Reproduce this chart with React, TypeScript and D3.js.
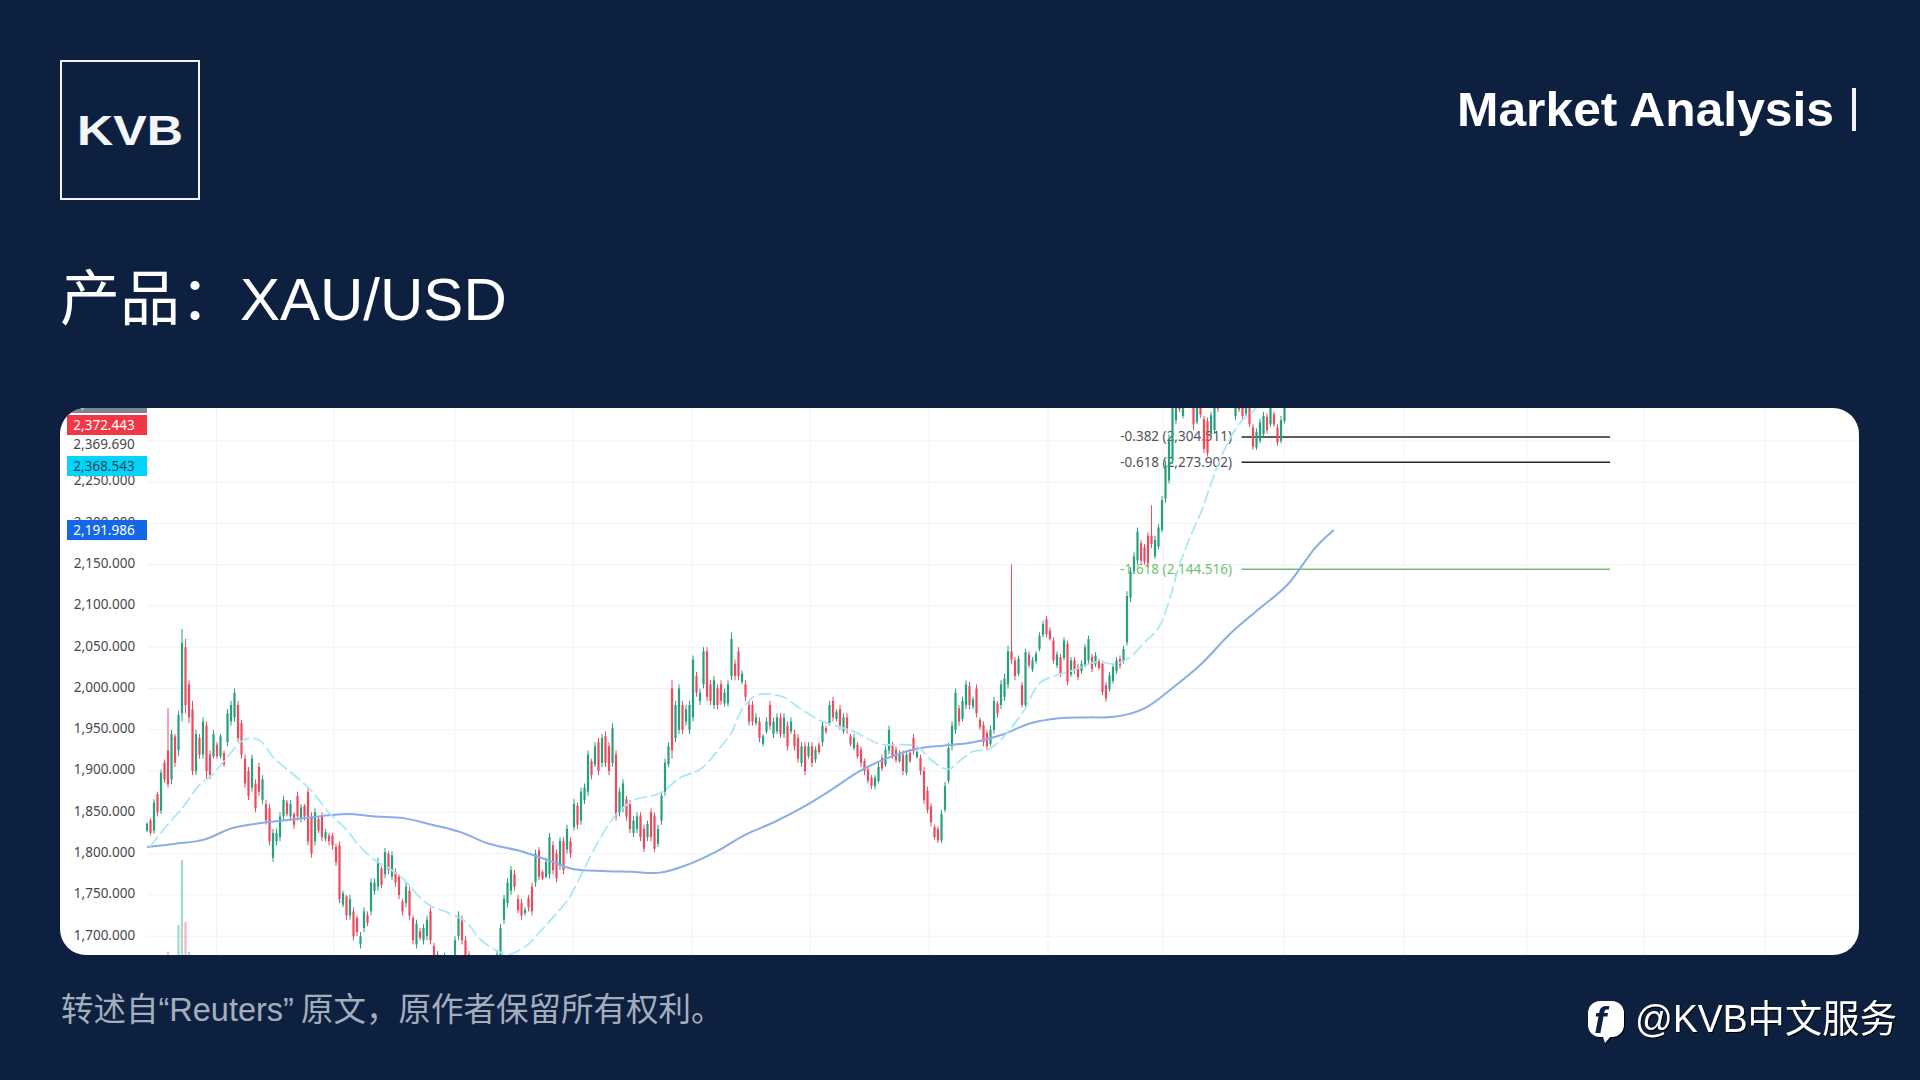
import React from "react";
import * as d3 from "d3";

const highs = [
1838,1843,1866,1875,1902,1914,1976,1950,1945,1973,
2072,2060,2010,1985,1950,1945,1965,1960,1925,1950,
1935,1945,1925,1975,1985,2000,1985,1962,1920,1905,
1920,1890,1910,1895,1865,1860,1830,1830,1850,1870,
1865,1865,1850,1875,1860,1860,1880,1850,1855,1845,
1850,1830,1825,1825,1812,1815,1755,1750,1750,1735,
1725,1705,1735,1730,1770,1770,1795,1785,1807,1803,
1803,1782,1775,1745,1765,1760,1725,1720,1710,1715,
1725,1735,1692,1682,1672,1680,1668,1660,1700,1730,
1725,1700,1682,1670,1655,1650,1640,1650,1645,1660,
1682,1715,1750,1770,1785,1780,1750,1745,1735,1750,
1765,1805,1808,1780,1795,1825,1815,1805,1820,1820,
1835,1820,1866,1862,1880,1885,1925,1915,1935,1940,
1945,1948,1935,1958,1925,1880,1890,1870,1865,1845,
1850,1850,1835,1840,1855,1850,1835,1875,1915,1935,
2010,1985,2005,1985,1980,1985,2040,2020,2000,2050,
2050,2010,2015,2005,2010,2000,2010,2068,2035,2050,
2022,2010,1985,1985,1970,1965,1945,1965,1985,1965,
1970,1970,1970,1960,1965,1950,1945,1935,1935,1935,
1935,1930,1935,1960,1955,1985,1990,1975,1980,1970,
1970,1945,1945,1935,1930,1915,1905,1895,1895,1910,
1920,1930,1955,1935,1930,1925,1925,1925,1925,1945,
1925,1920,1905,1881,1861,1835,1833,1853,1887,1934,
1960,2000,1980,1990,2010,2008,1990,2005,1965,1960,
1950,1955,1990,1985,2010,2018,2052,2150,2038,2040,
2008,2048,2045,2038,2045,2068,2082,2088,2074,2062,
2045,2042,2062,2058,2038,2038,2030,2034,2054,2064,
2042,2044,2036,2034,2008,2020,2030,2038,2040,2052,
2118,2147,2165,2195,2180,2175,2189,2222,2185,2199,
2233,2276,2308,2345,2360,2355,2360,2365,2370,2365,
2350,2345,2330,2328,2335,2345,2360,2375,2380,2375,
2385,2370,2350,2360,2350,2345,2320,2315,2327,2335,
2333,2345,2335,2320,2330,2350,
];

const lows = [
1826,1822,1824,1845,1848,1886,1880,1884,1905,1918,
1960,1970,1958,1895,1895,1915,1915,1890,1890,1915,
1915,1915,1905,1930,1955,1960,1935,1915,1880,1865,
1875,1850,1870,1860,1835,1810,1790,1810,1815,1840,
1845,1840,1830,1840,1838,1840,1810,1795,1810,1825,
1815,1815,1810,1805,1785,1740,1735,1720,1720,1695,
1700,1685,1705,1712,1725,1750,1755,1758,1770,1775,
1768,1760,1745,1725,1735,1720,1690,1685,1695,1690,
1695,1690,1668,1660,1650,1655,1640,1635,1660,1695,
1690,1670,1650,1640,1630,1625,1620,1625,1630,1635,
1650,1670,1715,1735,1750,1755,1728,1720,1725,1730,
1725,1760,1768,1768,1770,1770,1775,1765,1780,1775,
1800,1795,1828,1830,1835,1860,1870,1890,1905,1895,
1905,1905,1895,1905,1840,1845,1850,1840,1825,1820,
1825,1815,1802,1815,1815,1802,1808,1835,1870,1905,
1915,1935,1945,1945,1955,1945,1960,1990,1980,2000,
1985,1980,1975,1975,1980,1978,1978,2010,2010,2010,
2005,1985,1955,1955,1955,1935,1930,1945,1950,1940,
1945,1940,1940,1925,1945,1925,1910,1905,1895,1915,
1905,1910,1920,1930,1945,1955,1960,1960,1950,1945,
1945,1930,1925,1915,1905,1895,1885,1878,1878,1885,
1900,1905,1920,1915,1910,1910,1895,1895,1910,1920,
1915,1895,1860,1849,1833,1817,1813,1813,1850,1885,
1925,1945,1955,1960,1975,1975,1975,1965,1950,1930,
1925,1930,1945,1965,1975,1985,2000,2030,2010,2015,
1977,1975,2025,2020,2030,2045,2062,2062,2058,2030,
2025,2014,2034,2004,2014,2018,2010,2018,2026,2030,
2020,2026,2022,1992,1984,1996,2006,2018,2024,2030,
2052,2105,2139,2150,2150,2150,2147,2170,2157,2169,
2189,2225,2248,2272,2320,2335,2327,2340,2345,2313,
2320,2328,2285,2281,2305,2309,2335,2345,2350,2348,
2350,2325,2335,2325,2330,2317,2289,2289,2297,2305,
2309,2317,2317,2294,2297,2321,
];

const opens = [
1828,1840,1828,1872,1852,1910,1925,1890,1942,1925,
1970,2050,2005,1975,1900,1940,1920,1955,1920,1918,
1932,1918,1922,1935,1960,1965,1980,1958,1915,1900,
1880,1885,1905,1865,1860,1855,1795,1815,1820,1845,
1862,1845,1848,1870,1842,1858,1875,1845,1815,1842,
1845,1818,1822,1822,1808,1810,1738,1748,1725,1730,
1722,1690,1710,1726,1730,1755,1760,1782,1775,1800,
1772,1778,1772,1742,1740,1755,1722,1690,1706,1695,
1700,1730,1688,1665,1668,1660,1664,1655,1665,1700,
1720,1695,1678,1645,1650,1645,1625,1630,1640,1640,
1655,1675,1720,1740,1755,1775,1745,1740,1728,1746,
1760,1765,1804,1778,1772,1775,1810,1800,1785,1815,
1805,1815,1832,1858,1840,1865,1875,1912,1908,1935,
1910,1942,1930,1910,1920,1850,1855,1866,1860,1825,
1830,1846,1830,1820,1850,1846,1812,1840,1875,1908,
2000,1940,1950,1980,1960,1950,1965,2015,1985,2005,
2045,2005,1980,2000,2005,1982,1982,2015,2030,2045,
2008,2005,1980,1980,1958,1960,1933,1948,1980,1945,
1948,1965,1945,1955,1948,1945,1940,1910,1930,1918,
1930,1914,1932,1935,1952,1958,1985,1963,1975,1948,
1965,1942,1928,1932,1926,1912,1902,1892,1882,1888,
1916,1908,1925,1932,1926,1912,1920,1898,1922,1940,
1917,1916,1900,1876,1857,1832,1830,1816,1853,1888,
1930,1950,1976,1963,1980,2003,1978,2000,1962,1956,
1946,1933,1950,1982,1980,1990,2005,2045,2034,2018,
2004,1980,2041,2023,2033,2048,2065,2084,2070,2058,
2028,2038,2037,2054,2017,2034,2026,2021,2029,2034,
2038,2029,2033,2030,2004,1999,2009,2021,2036,2033,
2056,2110,2142,2155,2176,2171,2185,2185,2160,2172,
2192,2230,2252,2278,2325,2352,2330,2343,2350,2360,
2323,2342,2326,2324,2308,2313,2356,2348,2353,2351,
2380,2330,2347,2355,2333,2340,2316,2292,2300,2308,
2329,2320,2332,2316,2300,2324,
];

const closes = [
1836,1825,1862,1850,1898,1890,1884,1945,1910,1968,
2055,1980,1965,1900,1945,1920,1960,1900,1895,1945,
1918,1942,1908,1970,1980,1995,1940,1920,1885,1870,
1915,1855,1875,1890,1840,1815,1825,1825,1845,1865,
1848,1860,1835,1845,1856,1845,1815,1800,1850,1828,
1820,1826,1815,1810,1790,1745,1752,1725,1745,1700,
1705,1700,1730,1716,1765,1765,1790,1762,1802,1780,
1798,1765,1750,1730,1760,1725,1695,1715,1698,1710,
1720,1695,1672,1678,1655,1675,1645,1640,1695,1725,
1695,1675,1655,1665,1635,1630,1635,1645,1635,1655,
1678,1710,1745,1765,1780,1760,1732,1725,1732,1735,
1730,1800,1772,1770,1790,1820,1780,1770,1815,1780,
1830,1800,1860,1835,1875,1880,1920,1895,1930,1900,
1940,1910,1900,1952,1845,1875,1885,1845,1830,1840,
1845,1820,1806,1836,1820,1806,1830,1870,1910,1930,
1925,1980,2000,1950,1975,1980,2035,1995,1995,2045,
1990,1985,2010,1980,1985,1995,2005,2060,2015,2015,
2018,1990,1960,1960,1965,1940,1942,1960,1955,1960,
1965,1945,1965,1930,1960,1930,1915,1930,1900,1930,
1910,1926,1923,1955,1948,1980,1965,1972,1955,1965,
1950,1933,1940,1918,1910,1900,1888,1882,1892,1905,
1903,1926,1950,1918,1913,1922,1900,1920,1912,1924,
1923,1900,1865,1853,1838,1820,1816,1848,1882,1928,
1955,1995,1960,1985,2005,1980,1987,1970,1953,1935,
1930,1950,1985,1970,2005,2012,2045,2035,2015,2036,
1980,2044,2028,2034,2042,2064,2078,2066,2060,2034,
2041,2018,2058,2008,2034,2022,2014,2030,2050,2060,
2024,2040,2025,1996,1988,2016,2026,2034,2028,2048,
2112,2142,2160,2190,2155,2154,2152,2175,2180,2195,
2228,2270,2300,2340,2355,2338,2355,2360,2365,2320,
2345,2332,2290,2285,2331,2340,2339,2370,2375,2370,
2355,2365,2338,2330,2346,2320,2293,2311,2322,2330,
2313,2340,2320,2298,2325,2345,
];

const slowMaIndex = [0,8.1,16.3,24.4,32.6,40.7,48.9,57,65.1,73.3,81.4,89.6,97.7,105.9,114,122.1,130.3,138.4,146.6,154.7,162.9,171,179.1,187.3,195.4,203.6,211.7,219.9,228,236.1,244.3,252.4,260.6,268.7,276.9,285,293.1,301.3,309.4,317.6,325.7,333.9,339.1];
const slowMa = [1808,1812,1817,1831,1837,1841,1845,1848,1845,1843,1835,1826,1812,1804,1793,1781,1779,1778,1777,1787,1803,1823,1838,1856,1877,1900,1916,1927,1931,1935,1944,1958,1964,1965,1966,1976,2001,2030,2066,2096,2125,2171,2192];

const fastMaIndex = [0.8,5.7,10.6,14.7,18.7,22.8,26.9,29.3,32.6,35.8,38.3,43.2,47.2,52.1,57,60.3,65.1,69.2,73.3,78.2,81.4,86.3,91.2,95.3,100.2,103.4,108.3,112.4,114.8,120.5,124.6,129.5,134.4,139.2,146.6,152.3,158,162.9,166.9,170.2,174.3,181.6,186.5,193,201.9,209.3,219.9,223.9,228.8,232.1,236.1,240.2,243.5,245.9,250.8,254.9,259.8,264.6,271.2,276.9,280.9,285,289.1,292.3,294.8,298,301.3,304.5,308.6,312.7,315.1,320];
const fastMa = [1808,1834,1858,1882,1896,1916,1936,1940,1936,1918,1908,1891,1875,1849,1829,1811,1792,1782,1769,1746,1736,1728,1717,1696,1682,1678,1688,1706,1717,1746,1779,1819,1849,1865,1873,1892,1902,1924,1946,1976,1992,1990,1976,1960,1948,1933,1930,1914,1902,1912,1924,1926,1936,1947,1975,2006,2016,2022,2032,2030,2038,2056,2074,2110,2147,2183,2215,2254,2296,2324,2332,2355];

const volumeIndex = [6, 9, 10, 11, 12];
const volumeValues = [8, 35, 100, 38, 8];
const volumeUp = [false, true, true, false, true];

const priceTicks = [2300, 2250, 2200, 2150, 2100, 2050, 2000, 1950, 1900, 1850, 1800, 1750, 1700];
const tickLabels = ["2,200.000", "2,250.000", "2,150.000", "2,100.000", "2,050.000", "2,000.000", "1,950.000", "1,900.000", "1,850.000", "1,800.000", "1,750.000", "1,700.000"];
const tickPrices = [2200, 2250, 2150, 2100, 2050, 2000, 1950, 1900, 1850, 1800, 1750, 1700];
const timeGrid = [216.7, 334, 455, 573, 692, 810, 929, 1048, 1163, 1284, 1404, 1527, 1644, 1765];

const fibLabels = ["-0.382 (2,304.511)", "-0.618 (2,273.902)", "-1.618 (2,144.516)"];
const fibPrices = [2304.511, 2273.902, 2144.516];
const fibColors = ["#222730", "#222730", "#72bf76"];
const fibTextColors = ["#50535c", "#50535c", "#72bf76"];

const tagLabels = ["2,377.083", "2,372.443", "2,369.690", "2,368.543", "2,191.986"];
const tagCenters = [403, 425, 444, 466, 530];
const tagFills = ["#808590", "#f23645", "none", "#00d4fb", "#1468e6"];
const tagText = ["#f3f4f6", "#ffffff", "#45484f", "#2a4a55", "#ffffff"];

const BG = "#0e2040";
const GREEN = "#26a17f";
const RED = "#ee4a5d";
const LATIN_CJK = '"Liberation Sans","Noto Sans CJK SC",sans-serif';
const LABEL = '"Noto Sans",sans-serif';

const CARD = { x: 60, y: 408, w: 1799, h: 547, r: 26 };

export default function App() {
  const x = d3.scaleLinear().domain([0, 325]).range([147, 1284.5]);
  const y = d3.scaleLinear().domain([1700, 2300]).range([936.2, 440.8]);
  const vol = d3.scaleLinear().domain([0, 100]).range([960, 860]);
  const curve = d3.curveCatmullRom.alpha(0.5);
  const slowPath = d3.line<number>().x((_, i) => x(slowMaIndex[i])).y((v) => y(v)).curve(curve)(slowMa) || "";
  const fastPath = d3.line<number>().x((_, i) => x(fastMaIndex[i])).y((v) => y(v)).curve(curve)(fastMa) || "";

  return (
    <svg width={1920} height={1080} style={{ position: "fixed", left: 0, top: 0, display: "block" }}>
      <defs>
        <clipPath id="card">
          <rect x={CARD.x} y={CARD.y} width={CARD.w} height={CARD.h} rx={CARD.r} ry={CARD.r} />
        </clipPath>
      </defs>
      <rect width={1920} height={1080} fill={BG} />

      <rect x={61} y={61} width={138} height={138} fill="none" stroke="#f2f4f8" strokeWidth={2} />
      <text x={77} y={145} fontFamily='"Liberation Sans",sans-serif' fontWeight={700} fontSize={42} fill="#f4f6fa" textLength={106} lengthAdjust="spacingAndGlyphs">KVB</text>

      <text x={1457} y={126} fontFamily={LATIN_CJK} fontWeight={700} fontSize={48} fill="#ffffff" textLength={377} lengthAdjust="spacingAndGlyphs">Market Analysis</text>
      <rect x={1852} y={88} width={4} height={43} fill="#f2f4f8" />

      <text x={60} y={320} fontFamily={LATIN_CJK} fontSize={60} fill="#ffffff">产品：XAU/USD</text>

      <text x={61} y={1021} fontFamily={LATIN_CJK} fontSize={32.5} fill="#a3aebd">
        转述自“Reuters”<tspan dx={7}>原文，原作者保留所有权利。</tspan>
      </text>

      <g style={{ filter: "drop-shadow(1px 1px 0 #000000)" }}>
        <rect x={1588} y={1001} width={36} height={36} rx={12} ry={12} fill="#ffffff" />
        <path d="M1602,1034 L1605,1043 L1613,1034 Z" fill="#ffffff" />
        <text x={1594} y={1033} fontFamily='"Liberation Sans",sans-serif' fontWeight={700} fontStyle="italic" fontSize={37} fill={BG}>f</text>
        <text x={1635} y={1032} fontFamily={LATIN_CJK} fontSize={38} fill="#ffffff" textLength={262} lengthAdjust="spacingAndGlyphs">@KVB中文服务</text>
      </g>

      <g clipPath="url(#card)">
        <rect x={CARD.x} y={CARD.y} width={CARD.w} height={CARD.h} fill="#ffffff" />

        {timeGrid.map((gx) => (
          <line key={gx} x1={gx} x2={gx} y1={CARD.y} y2={CARD.y + CARD.h} stroke="#f1f2f5" strokeWidth={1} />
        ))}
        {priceTicks.map((p) => (
          <line key={p} x1={147} x2={CARD.x + CARD.w} y1={y(p)} y2={y(p)} stroke="#f1f2f5" strokeWidth={1} />
        ))}

        {tickPrices.map((p, i) => (
          <text key={p} x={104.5} y={y(p) - 1.5} dy="0.36em" textAnchor="middle" fontFamily={LABEL} fontSize={13.5} fill="#45484f">
            {tickLabels[i]}
          </text>
        ))}

        {fibLabels.map((t, i) => (
          <g key={t}>
            <text x={1232} y={y(fibPrices[i]) - 0.5} dy="0.36em" textAnchor="end" fontFamily={LABEL} fontSize={13.5} fill={fibTextColors[i]}>{t}</text>
            <line x1={1241.5} x2={1610} y1={y(fibPrices[i])} y2={y(fibPrices[i])} stroke={fibColors[i]} strokeWidth={1.5} />
          </g>
        ))}

        {volumeIndex.map((vi, i) => (
          <rect key={vi} x={x(vi) - 1.1} width={2.2} y={vol(volumeValues[i])} height={vol(0) - vol(volumeValues[i])}
            fill={volumeUp[i] ? GREEN : RED} opacity={0.42} />
        ))}

        {highs.map((h, i) => {
          const up = closes[i] >= opens[i];
          const col = up ? GREEN : RED;
          const top = y(Math.max(opens[i], closes[i]));
          const bot = y(Math.min(opens[i], closes[i]));
          return (
            <g key={i}>
              <line x1={x(i)} x2={x(i)} y1={y(h)} y2={y(lows[i])} stroke={col} strokeWidth={1} />
              <rect x={x(i) - 1.1} width={2.2} y={top} height={Math.max(bot - top, 1)} fill={col} />
            </g>
          );
        })}

        <path d={slowPath} fill="none" stroke="#88ade8" strokeWidth={2} />
        <path d={fastPath} fill="none" stroke="#a6e7f6" strokeWidth={1.7} strokeDasharray="13 4" />

        {tagLabels.map((t, i) => (
          <g key={t}>
            {tagFills[i] !== "none" && (
              <rect x={67} y={tagCenters[i] - 10} width={80} height={20} fill={tagFills[i]} />
            )}
            <text x={104} y={tagCenters[i]} dy="0.36em" textAnchor="middle" fontFamily={LABEL} fontSize={13.5} fill={tagText[i]}>{t}</text>
          </g>
        ))}
      </g>
    </svg>
  );
}
